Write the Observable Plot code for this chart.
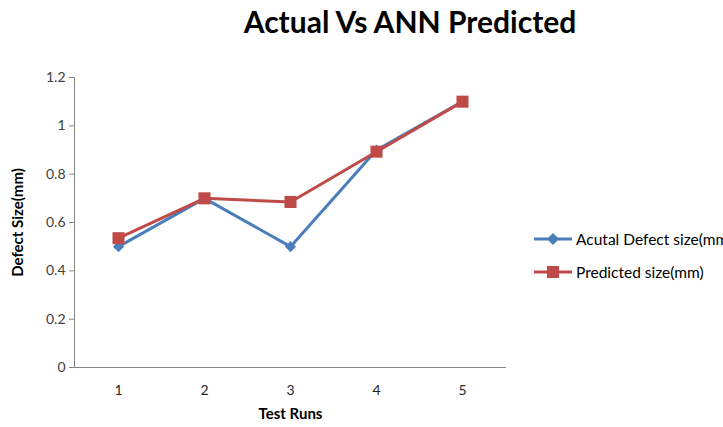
<!DOCTYPE html>
<html><head><meta charset="utf-8">
<script src="https://cdn.jsdelivr.net/npm/d3@7"></script>
<script src="https://cdn.jsdelivr.net/npm/@observablehq/plot@0.6"></script>
<style>
html,body{margin:0;padding:0;background:#fff;overflow:hidden;width:723px;height:427px;}
#wrap{position:relative;width:723px;height:427px;font-family:Lato,"Open Sans",sans-serif;}
#title{position:absolute;left:0;top:3px;width:820px;text-align:center;font-weight:bold;font-size:30px;color:#000;}
#legend{position:absolute;left:533px;top:222px;font-size:15.5px;color:#000;white-space:nowrap;}
.row{height:33px;display:flex;align-items:center;}
.row svg{margin-right:3px;}
</style></head>
<body><div id="wrap"><div id="title">Actual Vs ANN Predicted</div><div id="chart"></div><div id="legend"></div></div>
<script>
const runs = [1, 2, 3, 4, 5];
const actual = [0.5, 0.7, 0.5, 0.9, 1.1];
const predicted = [0.535, 0.70, 0.685, 0.893, 1.10];
const yTicks = [0, 0.2, 0.4, 0.6, 0.8, 1.0, 1.2];
const seriesNames = ["Acutal Defect size(mm)", "Predicted size(mm)"];
const colors = ["#4A7EBB", "#BE4B48"];

const dataA = runs.map((r, i) => ({run: r, v: actual[i]}));
const dataP = runs.map((r, i) => ({run: r, v: predicted[i]}));

const chart = Plot.plot({
  width: 723, height: 427,
  marginLeft: 74, marginRight: 217, marginTop: 77, marginBottom: 60,
  style: {fontFamily: "Lato, 'Open Sans', sans-serif", background: "transparent"},
  x: {type: "point", domain: runs, padding: 0.5, label: null},
  y: {domain: [0, 1.2], label: null},
  marks: [
    Plot.frame({anchor: "left", stroke: "#868686", strokeWidth: 1}),
    Plot.ruleY([0], {stroke: "#868686", strokeWidth: 1}),
    Plot.axisY({ticks: yTicks, tickSize: 5, tickPadding: 4, stroke: "#868686", fill: "#404040", fontSize: 14, tickFormat: d => String(+d.toFixed(1)), label: null}),
    Plot.axisX({tickSize: 0, tickPadding: 18, fill: "#262626", fontSize: 14, label: null}),
    Plot.text(["Defect Size(mm)"], {frameAnchor: "left", textAnchor: "middle", dx: -56, rotate: -90, fontWeight: "bold", fontSize: 15, fill: "#000"}),
    Plot.text(["Test Runs"], {frameAnchor: "bottom", dy: 51, fontWeight: "bold", fontSize: 15, fill: "#000"}),
    Plot.line(dataA, {x: "run", y: "v", stroke: colors[0], strokeWidth: 3}),
    Plot.dot(dataA, {x: "run", y: "v", symbol: "diamond2", r: 5, fill: colors[0], stroke: "none"}),
    Plot.line(dataP, {x: "run", y: "v", stroke: colors[1], strokeWidth: 3}),
    Plot.dot(dataP, {x: "run", y: "v", symbol: "square", r: 6.8, fill: colors[1], stroke: "none"})
  ]
});
document.getElementById("chart").appendChild(chart);

const legend = document.getElementById("legend");
const syms = ["diamond", "square"];
seriesNames.forEach((name, i) => {
  const row = document.createElement("div");
  row.className = "row";
  const marker = syms[i] === "diamond"
    ? `<polygon points="20,1 26,7 20,13 14,7" fill="${colors[i]}"/>`
    : `<rect x="14" y="1" width="12" height="12" fill="${colors[i]}"/>`;
  row.innerHTML = `<svg width="40" height="14"><line x1="1" x2="39" y1="7" y2="7" stroke="${colors[i]}" stroke-width="3"/>${marker}</svg><span>${name}</span>`;
  legend.appendChild(row);
});
</script></body></html>
